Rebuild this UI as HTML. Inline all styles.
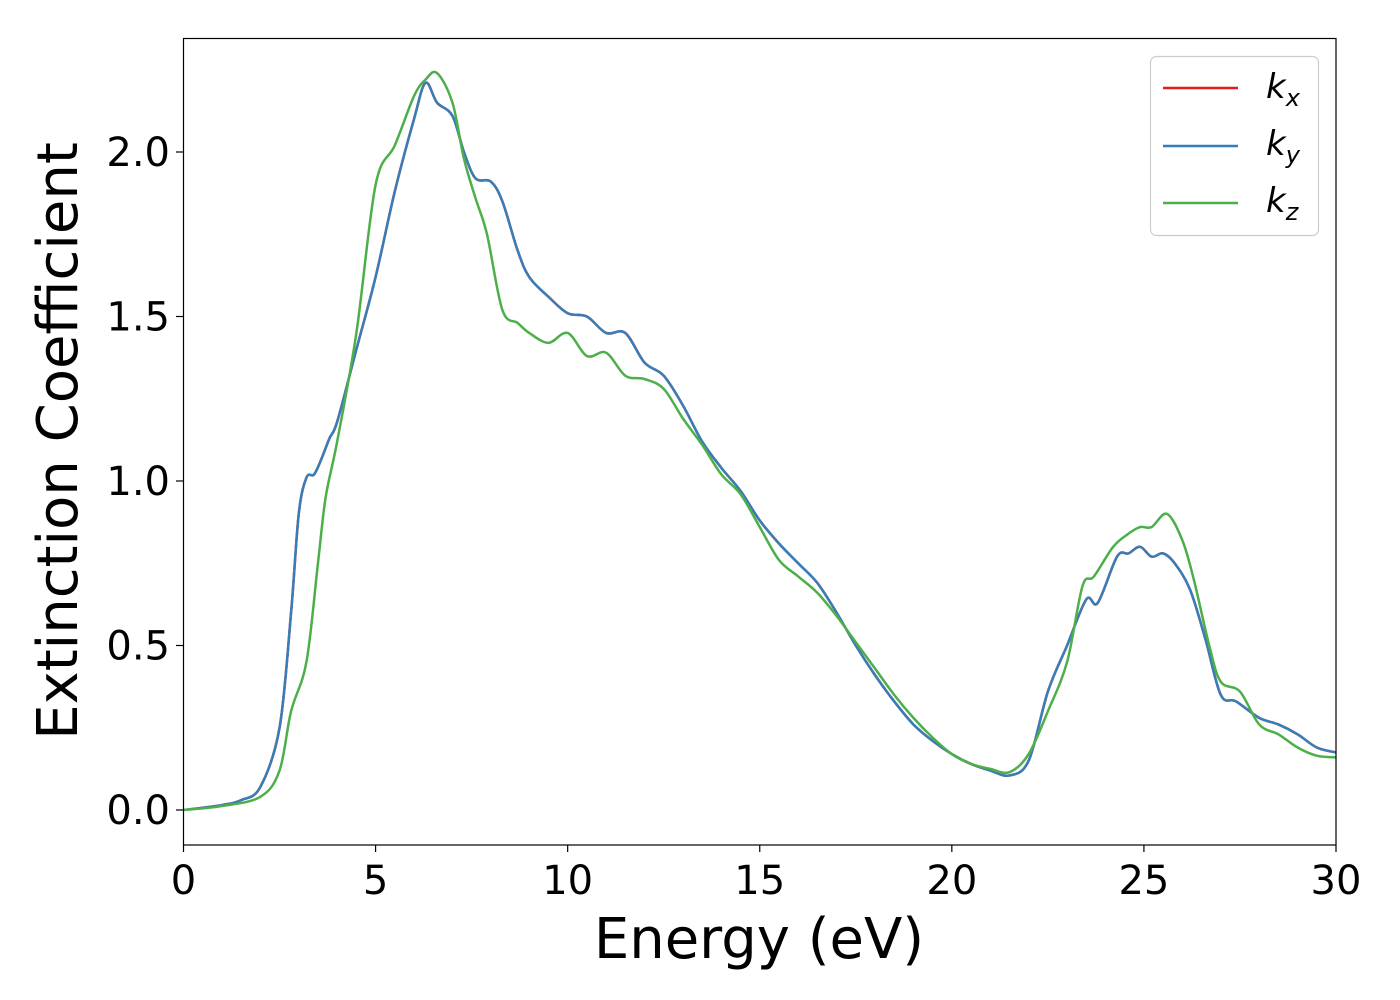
<!DOCTYPE html>
<html><head><meta charset="utf-8">
<style>
html,body{margin:0;padding:0;background:#fff;}
svg{display:block;font-family:"DejaVu Sans","Liberation Sans",sans-serif;}
</style></head>
<body>
<svg id="chart" width="1400" height="1000" viewBox="0 0 1400 1000">
  <rect x="0" y="0" width="1400" height="1000" fill="#fff"/>
  <g id="series"></g>
  <rect x="183.5" y="38.5" width="1152.5" height="806.5" fill="none" stroke="#000" stroke-width="1.2"/>
  <g id="xticks"></g>
  <g id="yticks"></g>
  <text x="759" y="958" font-size="56" text-anchor="middle">Energy (eV)</text>
  <text transform="translate(77,441) rotate(-90)" font-size="56" text-anchor="middle">Extinction Coefficient</text>
  <g>
    <rect x="1150.5" y="56.5" width="168" height="179" rx="6" fill="#fff" fill-opacity="0.8" stroke="#ccc" stroke-width="1.2"/>
    <g>
      <line x1="1163" y1="88" x2="1238" y2="88" stroke="#e41a1c" stroke-width="2.5"/>
      <text x="1266" y="98" font-size="34" font-style="italic">k<tspan font-size="24" dy="8">x</tspan></text>
    </g>
    <g>
      <line x1="1163" y1="146" x2="1238" y2="146" stroke="#377eb8" stroke-width="2.5"/>
      <text x="1266" y="155" font-size="34" font-style="italic">k<tspan font-size="24" dy="8">y</tspan></text>
    </g>
    <g>
      <line x1="1163" y1="203" x2="1238" y2="203" stroke="#4daf4a" stroke-width="2.5"/>
      <text x="1266" y="212" font-size="34" font-style="italic">k<tspan font-size="24" dy="8">z</tspan></text>
    </g>
  </g>
</svg>
<script>
const xTickValues = [0,5,10,15,20,25,30];
const yTickValues = [0.0,0.5,1.0,1.5,2.0];
const kxyEnergy = [0,1,1.5,2,2.5,2.8,3,3.2,3.4,3.6,3.8,4,4.5,5,5.5,6,6.3,6.6,7,7.3,7.6,8,8.3,8.7,9,9.5,10,10.5,11,11.5,12,12.5,13,13.5,14,14.5,15,15.5,16,16.5,17,17.5,18,18.5,19,19.5,20,20.5,21,21.5,22,22.5,23,23.5,23.8,24.3,24.6,24.9,25.2,25.5,25.8,26.2,26.6,27,27.4,28,28.5,29,29.5,30];
const kxValues = [0,0.015,0.03,0.07,0.25,0.6,0.9,1.01,1.02,1.07,1.13,1.18,1.4,1.62,1.88,2.1,2.21,2.15,2.11,2.0,1.92,1.91,1.85,1.7,1.62,1.56,1.51,1.5,1.45,1.45,1.36,1.32,1.23,1.12,1.04,0.97,0.88,0.81,0.75,0.69,0.6,0.5,0.41,0.33,0.26,0.21,0.17,0.14,0.12,0.105,0.15,0.36,0.5,0.64,0.63,0.77,0.78,0.8,0.77,0.78,0.75,0.67,0.52,0.35,0.33,0.28,0.26,0.23,0.19,0.175];
const kyValues = [0,0.015,0.03,0.07,0.25,0.6,0.9,1.01,1.02,1.07,1.13,1.18,1.4,1.62,1.88,2.1,2.21,2.15,2.11,2.0,1.92,1.91,1.85,1.7,1.62,1.56,1.51,1.5,1.45,1.45,1.36,1.32,1.23,1.12,1.04,0.97,0.88,0.81,0.75,0.69,0.6,0.5,0.41,0.33,0.26,0.21,0.17,0.14,0.12,0.105,0.15,0.36,0.5,0.64,0.63,0.77,0.78,0.8,0.77,0.78,0.75,0.67,0.52,0.35,0.33,0.28,0.26,0.23,0.19,0.175];
const kzEnergy = [0,1,2,2.5,2.8,3.2,3.5,3.7,4,4.5,5,5.5,6,6.3,6.6,7,7.3,7.6,7.9,8.3,8.7,9,9.5,10,10.5,11,11.5,12,12.5,13,13.5,14,14.5,15,15.5,16,16.5,17,17.5,18,18.5,19,19.5,20,20.5,21,21.5,22,22.5,23,23.4,23.7,24.2,24.6,24.9,25.2,25.6,26,26.3,26.7,27,27.5,28,28.5,29,29.5,30];
const kzValues = [0,0.012,0.04,0.12,0.3,0.45,0.75,0.95,1.12,1.45,1.9,2.02,2.17,2.22,2.24,2.15,1.98,1.86,1.75,1.52,1.48,1.45,1.42,1.45,1.38,1.39,1.32,1.31,1.28,1.19,1.11,1.02,0.96,0.86,0.76,0.71,0.66,0.59,0.51,0.43,0.35,0.28,0.22,0.17,0.14,0.125,0.115,0.17,0.3,0.45,0.68,0.71,0.8,0.84,0.86,0.86,0.9,0.82,0.7,0.5,0.39,0.36,0.26,0.23,0.19,0.165,0.16];

const X0=183.5,X1=1336,Y0=810,YPER=329;
function xs(v){return X0+(v-0)/(30-0)*(X1-X0);}
function ys(v){return Y0-v*YPER;}
const NS='http://www.w3.org/2000/svg';
function pathFor(xa,ya){
  const p=xa.map((x,i)=>[xs(x),ys(ya[i])]);
  let d='M'+p[0][0].toFixed(2)+','+p[0][1].toFixed(2);
  for(let i=0;i<p.length-1;i++){
    const p0=p[Math.max(0,i-1)],p1=p[i],p2=p[i+1],p3=p[Math.min(p.length-1,i+2)];
    const c1x=p1[0]+(p2[0]-p0[0])/6,c1y=p1[1]+(p2[1]-p0[1])/6;
    const c2x=p2[0]-(p3[0]-p1[0])/6,c2y=p2[1]-(p3[1]-p1[1])/6;
    d+=' C'+c1x.toFixed(2)+','+c1y.toFixed(2)+' '+c2x.toFixed(2)+','+c2y.toFixed(2)+' '+p2[0].toFixed(2)+','+p2[1].toFixed(2);
  }
  return d;
}
const sg=document.getElementById('series');
const clip=document.createElementNS(NS,'clipPath');clip.id='clip';
const cr=document.createElementNS(NS,'rect');cr.setAttribute('x',183.5);cr.setAttribute('y',38.5);cr.setAttribute('width',1152.5);cr.setAttribute('height',806.5);
clip.appendChild(cr);document.getElementById('chart').appendChild(clip);
sg.setAttribute('clip-path','url(#clip)');
function addLine(xa,ya,color,name){
  const el=document.createElementNS(NS,'path');
  el.setAttribute('d',pathFor(xa,ya));
  el.setAttribute('fill','none');el.setAttribute('stroke',color);el.setAttribute('stroke-width','2.5');
  
  
  sg.appendChild(el);
}
addLine(kxyEnergy,kxValues,'#e41a1c','line-kx');
addLine(kxyEnergy,kyValues,'#377eb8','line-ky');
addLine(kzEnergy,kzValues,'#4daf4a','line-kz');

const xg=document.getElementById('xticks');
xTickValues.forEach(v=>{
  const l=document.createElementNS(NS,'line');
  l.setAttribute('x1',xs(v));l.setAttribute('x2',xs(v));l.setAttribute('y1',845);l.setAttribute('y2',852);l.setAttribute('stroke','#000');l.setAttribute('stroke-width','1.2');
  
  
  xg.appendChild(l);
  const t=document.createElementNS(NS,'text');
  t.setAttribute('x',xs(v));t.setAttribute('y',894);t.setAttribute('font-size','40');t.setAttribute('text-anchor','middle');
  t.textContent=String(v);
  
  
  xg.appendChild(t);
});
const yg=document.getElementById('yticks');
yTickValues.forEach(v=>{
  const l=document.createElementNS(NS,'line');
  l.setAttribute('x1',176);l.setAttribute('x2',183.5);l.setAttribute('y1',ys(v));l.setAttribute('y2',ys(v));l.setAttribute('stroke','#000');l.setAttribute('stroke-width','1.2');
  
  
  yg.appendChild(l);
  const t=document.createElementNS(NS,'text');
  t.setAttribute('x',170);t.setAttribute('y',ys(v)+14);t.setAttribute('font-size','40');t.setAttribute('text-anchor','end');
  t.textContent=v.toFixed(1);
  
  
  yg.appendChild(t);
});
</script>
</body></html>
